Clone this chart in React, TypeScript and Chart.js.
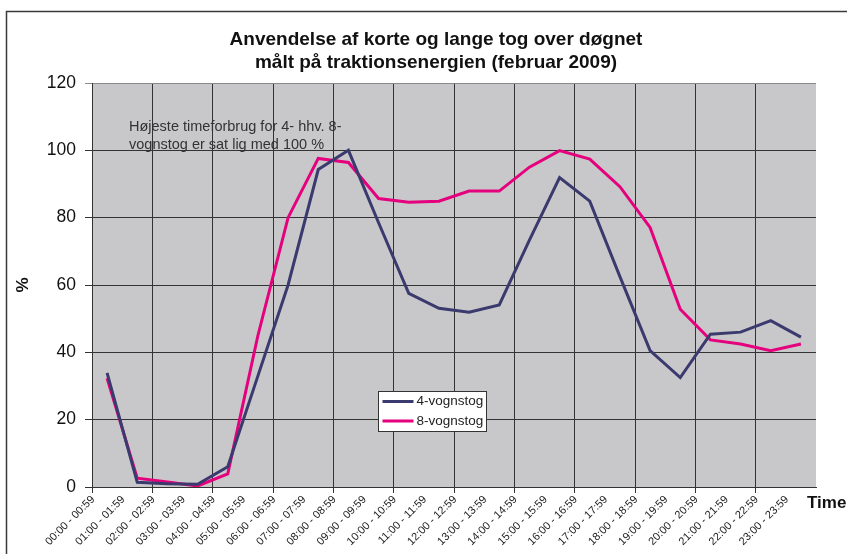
import React, { useEffect, useRef } from 'react';
import { Chart, registerables } from 'chart.js';

Chart.register(...registerables);

const categories = [
  '00:00 - 00:59', '01:00 - 01:59', '02:00 - 02:59', '03:00 - 03:59',
  '04:00 - 04:59', '05:00 - 05:59', '06:00 - 06:59', '07:00 - 07:59',
  '08:00 - 08:59', '09:00 - 09:59', '10:00 - 10:59', '11:00 - 11:59',
  '12:00 - 12:59', '13:00 - 13:59', '14:00 - 14:59', '15:00 - 15:59',
  '16:00 - 16:59', '17:00 - 17:59', '18:00 - 18:59', '19:00 - 19:59',
  '20:00 - 20:59', '21:00 - 21:59', '22:00 - 22:59', '23:00 - 23:59',
];

const fourCar = [
  33.9, 1.4, 1.0, 0.8, 6.0, 33, 60, 94.3, 100, 78.5, 57.5, 53.1,
  51.9, 54.1, 73.3, 91.9, 84.9, 62.5, 40.5, 32.5, 45.4, 46, 49.4, 44.5,
];

const eightCar = [
  32.3, 2.6, 1.5, 0.3, 3.9, 45, 80, 97.6, 96.4, 85.7, 84.6, 84.9,
  87.9, 87.9, 95, 99.9, 97.4, 89.2, 77.1, 52.8, 43.7, 42.5, 40.5, 42.5,
];

const seriesNames = ['4-vognstog', '8-vognstog'];
const seriesColors = ['#3b3a6e', '#e5007d'];
const titleLines = [
  'Anvendelse af korte og lange tog over døgnet',
  'målt på traktionsenergien (februar 2009)',
];
const noteLines = [
  'Højeste timeforbrug for 4- hhv. 8-',
  'vognstog er sat lig med 100 %',
];
const yAxisLabel = '%';
const xAxisLabel = 'Time';
const yMin = 0;
const yMax = 120;
const yStep = 20;

const FONT = '"Liberation Sans", Arial, sans-serif';

const decorations = {
  id: 'decorations',
  beforeDraw(chart: any) {
    const { ctx, chartArea: a } = chart;
    ctx.save();
    ctx.fillStyle = '#c8c8ca';
    ctx.fillRect(a.left, a.top, a.right - a.left, a.bottom - a.top);
    // outer frame
    ctx.strokeStyle = '#3a3a3a';
    ctx.lineWidth = 1.5;
    ctx.beginPath();
    ctx.moveTo(6.5, 600);
    ctx.lineTo(6.5, 11.5);
    ctx.lineTo(900, 11.5);
    ctx.stroke();
    ctx.restore();
  },
  afterDraw(chart: any) {
    const { ctx } = chart;
    ctx.save();
    // title
    ctx.fillStyle = '#111';
    ctx.textAlign = 'center';
    ctx.textBaseline = 'middle';
    ctx.font = `bold 19px ${FONT}`;
    ctx.fillText(titleLines[0], 436, 40);
    ctx.fillText(titleLines[1], 436, 63);

    // note
    ctx.textAlign = 'left';
    ctx.fillStyle = '#333';
    ctx.font = `14.5px ${FONT}`;
    ctx.fillText(noteLines[0], 129, 127);
    ctx.fillText(noteLines[1], 129, 145);

    // y axis label
    ctx.save();
    ctx.translate(23, 285);
    ctx.rotate(-Math.PI / 2);
    ctx.textAlign = 'center';
    ctx.fillStyle = '#111';
    ctx.font = `bold 17px ${FONT}`;
    ctx.fillText(yAxisLabel, 0, 0);
    ctx.restore();

    // x axis label
    ctx.textAlign = 'left';
    ctx.fillStyle = '#111';
    ctx.font = `bold 17px ${FONT}`;
    ctx.fillText(xAxisLabel, 807, 503);

    // legend
    const lx = 378.5, ly = 391.5, lw = 108, lh = 40;
    ctx.fillStyle = '#fff';
    ctx.fillRect(lx, ly, lw, lh);
    ctx.strokeStyle = '#333';
    ctx.lineWidth = 1;
    ctx.strokeRect(lx, ly, lw, lh);
    ctx.font = `13.5px ${FONT}`;
    ctx.textBaseline = 'middle';
    seriesNames.forEach((name, i) => {
      const y = ly + 10 + i * 19.5;
      ctx.strokeStyle = seriesColors[i];
      ctx.lineWidth = 3;
      ctx.beginPath();
      ctx.moveTo(lx + 4, y);
      ctx.lineTo(lx + 35, y);
      ctx.stroke();
      ctx.fillStyle = '#222';
      ctx.fillText(name, lx + 38, y);
    });
    ctx.restore();
  },
};

export default function App() {
  const ref = useRef<HTMLCanvasElement | null>(null);

  useEffect(() => {
    document.body.style.margin = '0';
    const canvas = ref.current;
    if (!canvas) return;
    const chart = new Chart(canvas, {
      type: 'line',
      data: {
        labels: categories,
        datasets: [
          {
            label: seriesNames[0],
            data: fourCar,
            borderColor: seriesColors[0],
            backgroundColor: seriesColors[0],
            borderWidth: 3,
            pointRadius: 0,
            tension: 0,
          },
          {
            label: seriesNames[1],
            data: eightCar,
            borderColor: seriesColors[1],
            backgroundColor: seriesColors[1],
            borderWidth: 3,
            pointRadius: 0,
            tension: 0,
          },
        ],
      },
      options: {
        responsive: false,
        animation: false,
        layout: { padding: { top: 83, left: 0, right: 31, bottom: 0 } },
        plugins: {
          legend: { display: false },
          title: { display: false },
          tooltip: { enabled: false },
        },
        scales: {
          x: {
            type: 'category',
            offset: true,
            afterFit(scale: any) {
              scale.height = 67;
            },
            grid: {
              offset: true,
              tickLength: 6,
              color: (ctx: any) => {
                if (ctx.index === categories.length) return '#8a8a8a';
                return ctx.index % 2 === 0 ? '#333' : 'rgba(0,0,0,0)';
              },
            },
            border: { color: '#333', width: 1 },
            ticks: {
              autoSkip: false,
              maxRotation: 45,
              minRotation: 45,
              padding: 0,
              labelOffset: -14,
              color: '#222',
              font: { family: FONT, size: 11 },
            },
          },
          y: {
            min: yMin,
            max: yMax,
            afterFit(scale: any) {
              scale.width = 92;
            },
            grid: {
              tickLength: 7,
              color: (ctx: any) => (ctx.tick && ctx.tick.value === yMax ? '#8a8a8a' : '#333'),
            },
            border: { color: '#333', width: 1 },
            ticks: {
              stepSize: yStep,
              padding: 9,
              color: '#111',
              font: { family: FONT, size: 17.5 },
            },
          },
        },
      },
      plugins: [decorations],
    });
    return () => chart.destroy();
  }, []);

  return <canvas ref={ref} width={847} height={554} style={{ display: 'block' }} />;
}
